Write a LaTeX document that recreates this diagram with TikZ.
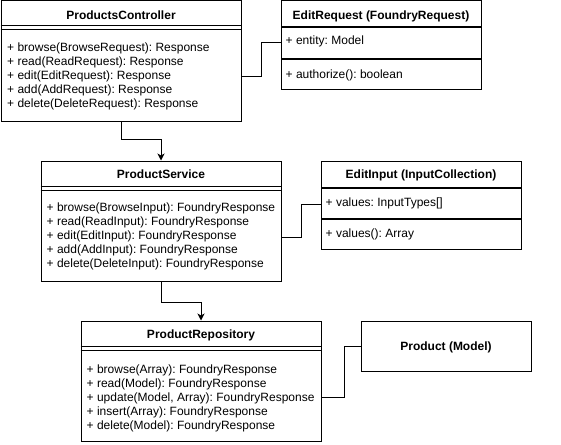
\documentclass[tikz,border=0pt]{standalone}
\usepackage{fontspec}
\setmainfont{Liberation Sans}
\usetikzlibrary{arrows.meta,calc}
\frenchspacing
\begin{document}
\begin{tikzpicture}[x=1pt,y=-1pt,
  box/.style={draw=black,line width=1pt,fill=white,inner sep=0pt,anchor=north west},
  txt/.style={inner sep=0pt,font=\fontsize{12pt}{14pt}\selectfont},
  member/.style={txt,anchor=base west},
  title/.style={txt,anchor=base,font=\fontsize{12pt}{14pt}\selectfont\bfseries},
  conn/.style={draw=black,line width=1pt},
  arr/.style={conn,-{Stealth[length=7pt,width=7pt,inset=2pt]}}
]
\fill[white] (0,0) rectangle (561,444);
\useasboundingbox (0,0) rectangle (561,444);

% ProductsController
\node[box,minimum width=240pt,minimum height=120pt] (pc) at (0.5,0.5) {};
\draw[line width=1pt] ([yshift=-25.5pt]pc.north west) -- ([yshift=-25.5pt]pc.north east);
\draw[line width=1pt] ([yshift=-29.5pt]pc.north west) -- ([yshift=-29.5pt]pc.north east);
\node[title] (pc-t) at ($(pc.north)+(0,18.8)$) {ProductsController};
\foreach \t [count=\i] in {{+ browse(BrowseRequest): Response},{+ read(ReadRequest): Response},{+ edit(EditRequest): Response},{+ add(AddRequest): Response},{+ delete(DeleteRequest): Response}}
  \node[member] (pc-m\i) at ($(pc.north west)+(6.5,{51+14*\i-14})$) {\t};

% EditRequest
\node[box,minimum width=200pt,minimum height=26pt] (er-h) at (280.5,0.5) {};
\node[box,minimum width=200pt,minimum height=30pt] (er-a) at (er-h.south west) {};
\node[box,minimum width=200pt,minimum height=30pt] (er-m) at (er-a.south west) {};
\node[title] (er-t) at ($(er-h.north)+(0,18.8)$) {EditRequest (FoundryRequest)};
\node[member] (er-a1) at ($(er-a.north west)+(5,17)$) {+ entity: Model};
\node[member] (er-m1) at ($(er-m.north west)+(5,20)$) {+ authorize(): boolean};

% ProductService
\node[box,minimum width=240pt,minimum height=120pt] (ps) at (40.5,160.5) {};
\draw[line width=1pt] ([yshift=-25.5pt]ps.north west) -- ([yshift=-25.5pt]ps.north east);
\draw[line width=1pt] ([yshift=-29.5pt]ps.north west) -- ([yshift=-29.5pt]ps.north east);
\node[title] (ps-t) at ($(ps.north)+(0,18.3)$) {ProductService};
\foreach \t [count=\i] in {{+ browse(BrowseInput): FoundryResponse},{+ read(ReadInput): FoundryResponse},{+ edit(EditInput): FoundryResponse},{+ add(AddInput): FoundryResponse},{+ delete(DeleteInput): FoundryResponse}}
  \node[member] (ps-m\i) at ($(ps.north west)+(6,{50.5+14*\i-14})$) {\t};

% EditInput
\node[box,minimum width=200pt,minimum height=26pt] (ei-h) at (320.5,160.5) {};
\node[box,minimum width=200pt,minimum height=30pt] (ei-a) at (ei-h.south west) {};
\node[box,minimum width=200pt,minimum height=30pt] (ei-m) at (ei-a.south west) {};
\node[title] (ei-t) at ($(ei-h.north)+(0,18)$) {EditInput (InputCollection)};
\node[member] (ei-a1) at ($(ei-a.north west)+(5,18.7)$) {+ values: InputTypes[]};
\node[member] (ei-m1) at ($(ei-m.north west)+(5,18.7)$) {+ values(): Array};

% ProductRepository
\node[box,minimum width=240pt,minimum height=120pt] (pr) at (80.5,320.5) {};
\draw[line width=1pt] ([yshift=-25.5pt]pr.north west) -- ([yshift=-25.5pt]pr.north east);
\draw[line width=1pt] ([yshift=-29.5pt]pr.north west) -- ([yshift=-29.5pt]pr.north east);
\node[title] (pr-t) at ($(pr.north)+(0,18.3)$) {ProductRepository};
\foreach \t [count=\i] in {{+ browse(Array): FoundryResponse},{+ read(Model): FoundryResponse},{+ update(Model, Array): FoundryResponse},{+ insert(Array): FoundryResponse},{+ delete(Model): FoundryResponse}}
  \node[member] (pr-m\i) at ($(pr.north west)+(6,{52.5+14*\i-14})$) {\t};

% Product (Model)
\node[box,minimum width=170pt,minimum height=50pt] (pm) at (360.5,320.5) {};
\node[title] (pm-t) at ($(pm.center)+(0,4.3)$) {Product (Model)};

% connectors
\draw[conn] ([yshift=-76pt]pc.north east) -- ++(20,0) |- (er-a.west);
\draw[arr] (pc.south) -- ++(0,18) -| (ps.north);
\draw[conn] ([yshift=-76.5pt]ps.north east) -- ++(20,0) |- ([yshift=-1.5pt]ei-a.west);
\draw[arr] (ps.south) -- ++(0,20.5) -| (pr.north);
\draw[conn] ([yshift=-76.5pt]pr.north east) -- ++(23,0) |- (pm.west);
\end{tikzpicture}
\end{document}
